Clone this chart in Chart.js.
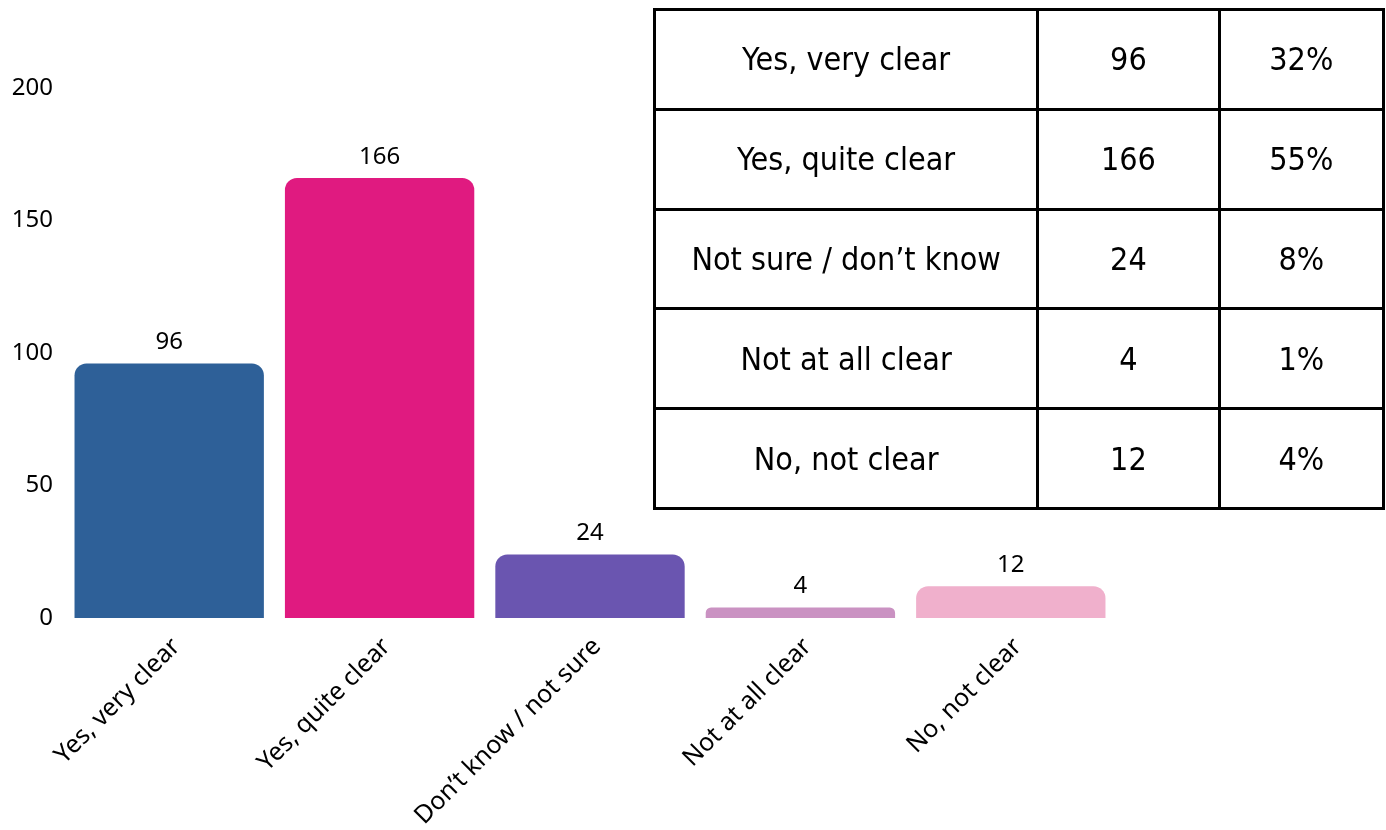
<!DOCTYPE html>
<html>
<head>
<meta charset="utf-8">
<script src="https://cdn.jsdelivr.net/npm/chart.js@4.4.0/dist/chart.umd.min.js"></script>
<style>
  html, body { margin: 0; padding: 0; background: #fff; }
  #wrap { position: relative; width: 1386px; height: 830px; }
  #clarityChart { position: absolute; left: 0; top: 0; }
  #summary {
    position: absolute; left: 653px; top: 8px;
    width: 732px; height: 502px;
    border-collapse: collapse;
    font-family: 'DejaVu Sans Condensed', 'Liberation Sans Narrow', sans-serif;
    font-size: 32px; color: #000;
  }
  #summary td {
    border: 3px solid #000; text-align: center; padding: 0;
    height: 94px;
  }
</style>
</head>
<body>
<div id="wrap">
  <canvas id="clarityChart" width="1386" height="830"></canvas>
  <table id="summary"><colgroup><col style="width:385px"><col style="width:182px"><col style="width:165px"></colgroup><tbody></tbody></table>
</div>
<script>
var categories = ['Yes, very clear', 'Yes, quite clear', 'Don\u2019t know / not sure', 'Not at all clear', 'No, not clear'];
var responses = [96, 166, 24, 4, 12];
var barColors = ['#2E6098', '#E01A80', '#6A55B0', '#CA92C2', '#F0B0CC'];
var yTicks = [0, 50, 100, 150, 200];

var tableLabels = ['Yes, very clear', 'Yes, quite clear', 'Not sure / don\u2019t know', 'Not at all clear', 'No, not clear'];
var tableCounts = [96, 166, 24, 4, 12];
var tablePercents = ['32%', '55%', '8%', '1%', '4%'];

// summary table
var tbody = document.querySelector('#summary tbody');
for (var i = 0; i < tableLabels.length; i++) {
  var tr = document.createElement('tr');
  [tableLabels[i], tableCounts[i], tablePercents[i]].forEach(function(v){
    var td = document.createElement('td');
    td.textContent = v;
    tr.appendChild(td);
  });
  tbody.appendChild(tr);
}

// value above each bar
var valueLabels = {
  id: 'valueLabels',
  afterDatasetsDraw: function(chart){
    var ctx = chart.ctx;
    var meta = chart.getDatasetMeta(0);
    ctx.save();
    ctx.font = '24px "Noto Sans", sans-serif';
    ctx.fillStyle = '#000';
    ctx.textAlign = 'center';
    ctx.textBaseline = 'middle';
    meta.data.forEach(function(bar, i){
      ctx.fillText(chart.data.datasets[0].data[i], bar.x, bar.y - 21);
    });
    ctx.restore();
  }
};

Chart.defaults.font.family = '"Noto Sans", sans-serif';
Chart.defaults.font.size = 24;
Chart.defaults.color = '#000';

var ctx = document.getElementById('clarityChart');
var chart = new Chart(ctx, {
  type: 'bar',
  data: {
    labels: categories,
    datasets: [{
      data: responses,
      backgroundColor: barColors,
      borderRadius: 12,
      borderSkipped: 'start',
      barPercentage: 0.9,
      categoryPercentage: 1.0
    }]
  },
  options: {
    responsive: false,
    animation: false,
    layout: { padding: { left: 10, right: 270, top: 88, bottom: 0 } },
    plugins: { legend: { display: false }, tooltip: { enabled: false } },
    scales: {
      x: {
        grid: { display: false, drawTicks: false },
        border: { display: false },
        ticks: { minRotation: 45, maxRotation: 45, padding: 14, labelOffset: 7, font: { size: 25 } },
        afterFit: function(scale){
          scale.height = 212;
          scale.paddingLeft = 0;
          scale.paddingRight = 0;
        }
      },
      y: {
        min: 0, max: 200,
        afterBuildTicks: function(scale){
          scale.ticks = yTicks.map(function(v){ return { value: v }; });
        },
        grid: { display: false, drawTicks: false },
        border: { display: false },
        ticks: { padding: 11 },
        afterFit: function(scale){
          scale.width = 54;
        }
      }
    }
  },
  plugins: [valueLabels]
});
</script>
</body>
</html>
